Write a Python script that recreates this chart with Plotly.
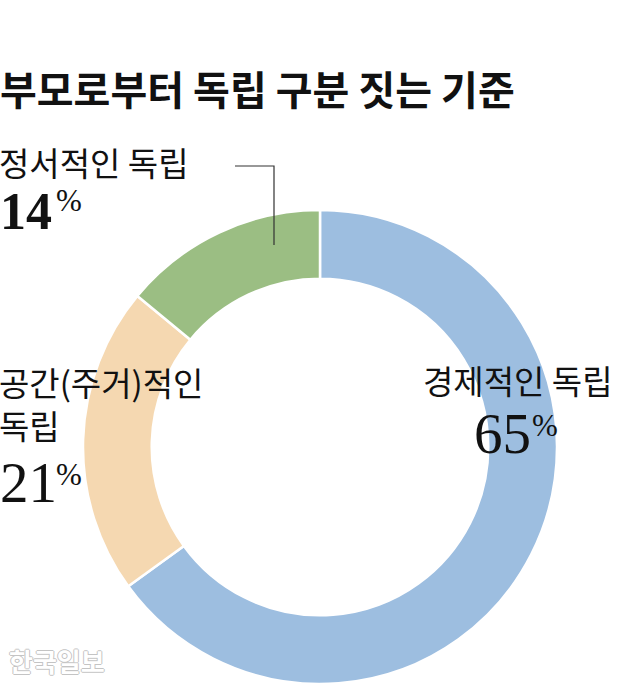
import plotly.graph_objects as go

# ---- data ----
categories = ["경제적인 독립", "공간(주거)적인 독립", "정서적인 독립"]
values = [65, 21, 14]
label_lines = [["경제적인 독립"], ["공간(주거)적인", "독립"], ["정서적인 독립"]]
title_text = "부모로부터 독립 구분 짓는 기준"
source_text = "한국일보"

# ---- styles ----
colors = ["#9dbee0", "#f5d8b1", "#9bbe83"]
W, H = 640, 688
SANS = "Noto Sans CJK KR"
SERIF = "Liberation Serif"


def px(x):
    return x / W


def py(y):
    return 1 - y / H


# pie geometry (pixels)
cx, cy, R = 320, 447, 237
hole = 0.71

fig = go.Figure(go.Pie(
    labels=categories,
    values=values,
    sort=False,
    direction="clockwise",
    rotation=0,
    hole=hole,
    marker=dict(colors=colors, line=dict(color="white", width=2.5)),
    textinfo="none",
    hoverinfo="label+percent",
    showlegend=False,
    domain=dict(x=[px(cx - R), px(cx + R)], y=[py(cy + R), py(cy - R)]),
))

annotations = []


def add_text(text, x, y, size, family=SANS, color="#111111", anchor="left", weight="normal", shadow=None):
    f = dict(family=family, size=size, color=color, weight=weight)
    if shadow:
        f["shadow"] = shadow
    annotations.append(dict(
        text=text, x=px(x), y=py(y), xref="paper", yref="paper",
        xanchor=anchor, yanchor="middle", align="left", showarrow=False,
        font=f, borderpad=0, borderwidth=0,
    ))


# title
add_text(title_text, 0, 88, 40, weight="bold", color="#111111")

# label layout (label centre y, number, percent sign)
label_pos = [
    dict(x=423, y=380, nx=474, ny=433, ns=57, px_=532, py_=425, bold=False),
    dict(x=-1, y=403, nx=0, ny=482, ns=57, px_=56, py_=474, bold=False),
    dict(x=-1, y=162, nx=0, ny=211, ns=52, px_=56, py_=201, bold=True),
]

for lines, v, p in zip(label_lines, values, label_pos):
    add_text("<br>".join(lines), p["x"], p["y"], 33)
    add_text(str(v), p["nx"], p["ny"], p["ns"], family=SERIF,
             weight="bold" if p["bold"] else "normal")
    add_text("%", p["px_"], p["py_"], 31, family=SERIF)

# watermark
add_text(source_text, 9, 660, 26, weight="bold", color="white",
         shadow="1px 0 0 #c4c4c4, -1px 0 0 #c4c4c4, 0 1px 0 #c4c4c4, 0 -1px 0 #c4c4c4")

fig.update_layout(
    width=W, height=H,
    margin=dict(l=0, r=0, t=0, b=0),
    paper_bgcolor="white", plot_bgcolor="white",
    annotations=annotations,
    shapes=[dict(
        type="path", xref="paper", yref="paper",
        path=f"M {px(235)} {py(166)} L {px(274)} {py(166)} L {px(274)} {py(245)}",
        line=dict(color="#333333", width=1.2),
    )],
)

fig.write_html(
    "out.html",
    config={"displayModeBar": False},
    post_script="document.body.style.margin='0';document.body.style.overflow='hidden';",
)
